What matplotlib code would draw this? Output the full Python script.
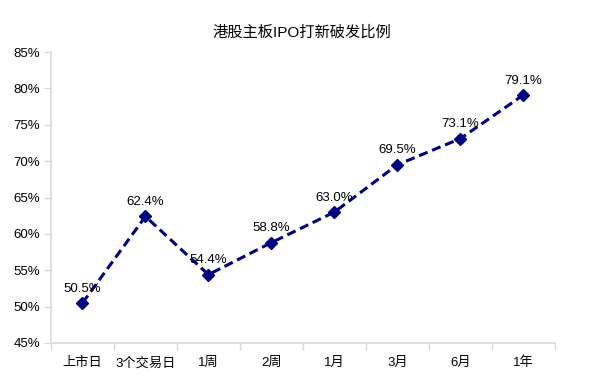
import matplotlib
matplotlib.use('Agg')
import matplotlib.pyplot as plt

plt.rcParams['font.family'] = ['Liberation Sans', 'Noto Sans CJK SC', 'DejaVu Sans']

categories = ['上市日', '3个交易日', '1周', '2周', '1月', '3月', '6月', '1年']
ratio = [50.5, 62.4, 54.4, 58.8, 63.0, 69.5, 73.1, 79.1]
yticks = [45, 50, 55, 60, 65, 70, 75, 80, 85]

fig = plt.figure(figsize=(5.9, 3.8), dpi=100)
ax = fig.add_axes([0.0864, 0.0974, 0.854, 0.7656])

x = list(range(len(categories)))
ax.plot(x, ratio, color='#000080', linestyle=(0, (3, 1.6)), linewidth=2.2,
        marker='D', markersize=6.3)

for xi, v in zip(x, ratio):
    ax.annotate(f'{v:.1f}%', (xi, v), xytext=(0, 6), textcoords='offset points',
                ha='center', va='bottom', fontsize=9.5, color='black')

ax.set_xlim(-0.5, len(categories) - 0.5)
ax.set_ylim(45, 85)
ax.set_yticks(yticks)
ax.set_yticklabels([f'{t}%' for t in yticks], fontsize=9.5)
ax.set_xticks(x)
ax.set_xticklabels(categories, fontsize=9.5)
ax.set_xticks([i + 0.5 for i in range(-1, len(categories))], minor=True)
ax.tick_params(axis='x', which='major', length=0, pad=10)
ax.tick_params(axis='x', which='minor', length=5, color='#d9d9d9', width=1)
ax.tick_params(axis='y', length=5, color='#d9d9d9', width=1, pad=3)

for side in ['top', 'right']:
    ax.spines[side].set_visible(False)
for side in ['left', 'bottom']:
    ax.spines[side].set_color('#d9d9d9')
    ax.spines[side].set_linewidth(1.2)

fig.text(0.511, 0.915, '港股主板IPO打新破发比例', ha='center', va='center', fontsize=11)

fig.savefig('out.png', dpi=100)
